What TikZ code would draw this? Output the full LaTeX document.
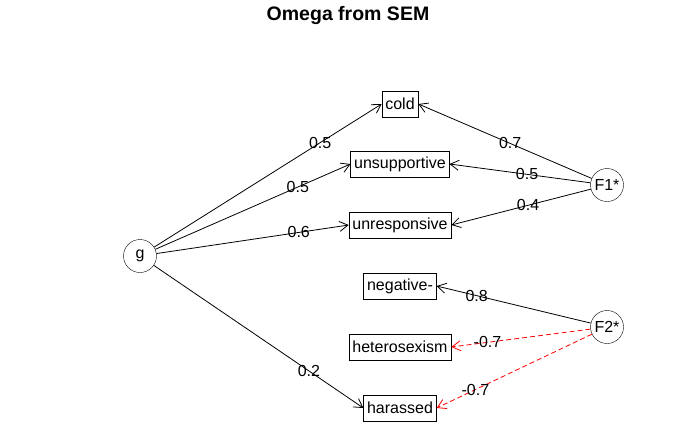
\documentclass[tikz,border=0pt]{standalone}
\usepackage{fontspec}
\setmainfont{Liberation Sans}
\usetikzlibrary{positioning, arrows.meta}
\definecolor{negRed}{RGB}{255, 0, 0}
\tikzset{
  latent/.style={circle, draw=black, minimum size=33pt, inner sep=0pt, font=\fontsize{16}{16}\selectfont},
  manifest/.style={rectangle, draw=black, minimum height=26pt, inner xsep=3.5pt, inner ysep=0pt, font=\fontsize{16}{16}\selectfont},
  load/.style={-{Straight Barb[length=8.5pt, width=10pt]}, line width=0.8pt, black},
  negload/.style={load, negRed, dash pattern=on 5pt off 3pt},
  wt/.style={inner sep=0pt, font=\fontsize{16}{16}\selectfont, text=black}
}
\begin{document}
\begin{tikzpicture}[x=1pt, y=-1pt]
  \useasboundingbox (0,0) rectangle (700,432);
  % Title
  \node[font=\fontsize{19.5}{19.5}\selectfont\bfseries] (title) at (348,15) {Omega from SEM};

  % General factor and group factors
  \node[latent] (g) at (140,256) {g};
  \node[latent] (F1) at (607,185) {F1*};
  \node[latent] (F2) at (607,327) {F2*};

  % Items
  \node[manifest] (cold) at (400,104) {cold};
  \node[manifest] (unsup) at (400,164) {unsupportive};
  \node[manifest] (unresp) at (400,225) {unresponsive};
  \node[manifest] (negat) at (400,286) {negative-};
  \node[manifest] (hetero) at (400,347) {heterosexism};
  \node[manifest] (harass) at (400,408) {harassed};

  % Loadings on g
  \draw[load] (g) -- (cold.west) node[wt, pos=0.73] {0.5};
  \draw[load] (g) -- (unsup.west) node[wt, pos=0.73] {0.5};
  \draw[load] (g) -- (unresp.west) node[wt, pos=0.74] {0.6};
  \draw[load] (g) -- (harass.west) node[wt, pos=0.74] {0.2};

  % Loadings on F1*
  \draw[load] (F1) -- (cold.east) node[wt, pos=0.47] {0.7};
  \draw[load] (F1) -- (unsup.east) node[wt, pos=0.45] {0.5};
  \draw[load] (F1) -- (unresp.east) node[wt, pos=0.45] {0.4};

  % Loadings on F2*
  \draw[load] (F2) -- (negat.east) node[wt, pos=0.74] {0.8};
  \draw[negload] (F2) -- (hetero.east) node[wt, pos=0.74] {-0.7};
  \draw[negload] (F2) -- (harass.east) node[wt, pos=0.75] {-0.7};
\end{tikzpicture}
\end{document}
